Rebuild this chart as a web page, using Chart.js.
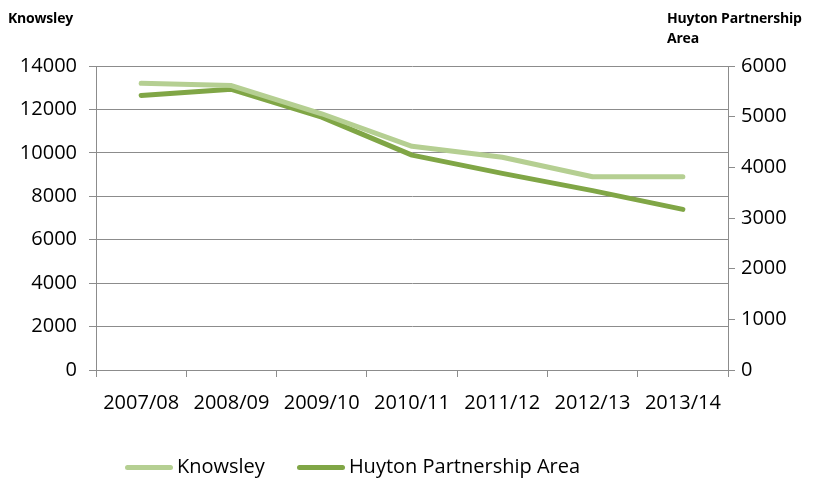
<!DOCTYPE html>
<html>
<head>
<meta charset="utf-8">
<script src="https://cdn.jsdelivr.net/npm/chart.js@4"></script>
<style>
 body { margin: 0; background: #fff; }
 #wrap { position: relative; width: 820px; height: 479px; font-family: "Open Sans", sans-serif; }
 canvas { position: absolute; left: 0; top: 0; }
 .title { position: absolute; font-weight: bold; font-size: 14px; color: #000; line-height: 20px; letter-spacing: -0.2px; }
 #legend { position: absolute; top: 452px; left: 125px; font-size: 20px; color: #000; white-space: nowrap; }
 #legend span.item { display: inline-block; margin-right: 32px; }
 #legend span.swatch { display: inline-block; width: 48px; height: 5px; border-radius: 3px; vertical-align: middle; margin-right: 4px; }
</style>
</head>
<body>
<div id="wrap">
 <canvas id="chart" width="820" height="479"></canvas>
 <div class="title" style="left:8px; top:8px;">Knowsley</div>
 <div class="title" style="left:667px; top:8px;">Huyton Partnership<br>Area</div>
 <div id="legend"></div>
</div>
<script>
// Chart data
const categories = ['2007/08', '2008/09', '2009/10', '2010/11', '2011/12', '2012/13', '2013/14'];
const knowsley = [13200, 13100, 11800, 10300, 9800, 8900, 8900];
const huyton = [5420, 5540, 4990, 4240, 3880, 3540, 3170];
const leftTicks = [0, 2000, 4000, 6000, 8000, 10000, 12000, 14000];
const rightTicks = [0, 1000, 2000, 3000, 4000, 5000, 6000];

const knowsleyColor = '#b5cf92';
const huytonColor = '#80a646';
const gridColor = '#8c8c8c';
const tickFont = { family: 'Open Sans', size: 20 };

// Simple html legend
const legend = document.getElementById('legend');
[['Knowsley', knowsleyColor], ['Huyton Partnership Area', huytonColor]].forEach(([name, color]) => {
    legend.innerHTML += `<span class="item"><span class="swatch" style="background:${color}"></span>${name}</span>`;
});

const ctx = document.getElementById('chart').getContext('2d');
const chart = new Chart(ctx, {
    type: 'line',
    data: {
        labels: categories,
        datasets: [{
            label: 'Knowsley',
            data: knowsley,
            yAxisID: 'y',
            borderColor: knowsleyColor,
            borderWidth: 5,
            pointRadius: 0,
            borderCapStyle: 'round',
            borderJoinStyle: 'round',
            tension: 0
        }, {
            label: 'Huyton Partnership Area',
            data: huyton,
            yAxisID: 'y2',
            borderColor: huytonColor,
            borderWidth: 5,
            pointRadius: 0,
            borderCapStyle: 'round',
            borderJoinStyle: 'round',
            tension: 0
        }]
    },
    options: {
        responsive: false,
        animation: false,
        layout: { padding: { top: 66, bottom: 0, left: 0, right: 0 } },
        plugins: { legend: { display: false }, tooltip: { enabled: false } },
        scales: {
            x: {
                offset: true,
                grid: { offset: true, drawOnChartArea: false, drawTicks: true, tickLength: 7, color: gridColor },
                border: { color: gridColor, width: 1 },
                ticks: { color: '#000', font: tickFont, padding: 14, maxRotation: 0, autoSkip: false },
                afterFit: s => { s.height = 109; }
            },
            y: {
                position: 'left',
                min: 0, max: 14000,
                afterBuildTicks: s => { s.ticks = leftTicks.map(v => ({ value: v })); },
                grid: { color: gridColor, tickLength: 7 },
                border: { color: gridColor, width: 1 },
                ticks: { color: '#000', font: tickFont, padding: 12, callback: v => String(v) },
                afterFit: s => { s.width = 96; }
            },
            y2: {
                position: 'right',
                min: 0, max: 6000,
                afterBuildTicks: s => { s.ticks = rightTicks.map(v => ({ value: v })); },
                grid: { drawOnChartArea: false, color: gridColor, tickLength: 7 },
                border: { color: gridColor, width: 1 },
                ticks: { color: '#000', font: tickFont, padding: 6, callback: v => String(v) },
                afterFit: s => { s.width = 92; }
            }
        }
    }
});
</script>
</body>
</html>
